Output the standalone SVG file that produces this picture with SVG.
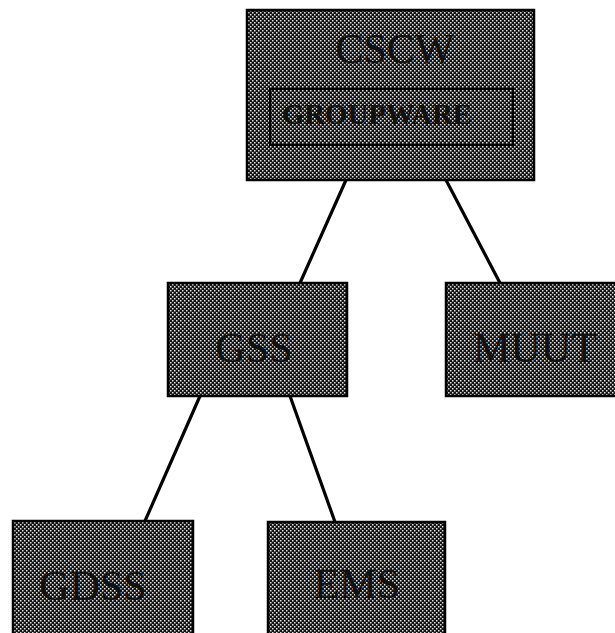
<svg xmlns="http://www.w3.org/2000/svg" width="615" height="633" viewBox="0 0 615 633">
  <defs>
    <!-- halftone screen used as the box fill -->
    <pattern id="screen" width="4" height="4" patternUnits="userSpaceOnUse">
      <rect width="4" height="4" fill="#141414"/>
      <rect x="0" y="0" width="1.5" height="1.5" fill="#e0e0e0"/>
      <rect x="2" y="2" width="1.5" height="1.5" fill="#e0e0e0"/>
    </pattern>
  </defs>
  <style>
    .box { fill: url(#screen); stroke: #000; stroke-width: 2.5; }
    .inner { fill: none; stroke: #000; stroke-width: 2; }
    .label { font-family: "Liberation Serif", "Times New Roman", serif; font-size: 42px; fill: #111; text-anchor: middle; }
    .sub { font-family: "Liberation Serif", "Times New Roman", serif; font-size: 30px; font-weight: bold; fill: #111; text-anchor: middle; }
    .link { stroke: #000; stroke-width: 3.2; fill: none; stroke-linecap: round; }
  </style>
  <rect width="615" height="633" fill="#fff"/>

  <g id="connectors">
    <line class="link" x1="346" y1="180" x2="300" y2="283"/>
    <line class="link" x1="446" y1="180" x2="500" y2="283"/>
    <line class="link" x1="200" y1="396" x2="145" y2="521"/>
    <line class="link" x1="290" y1="396" x2="335" y2="522"/>
  </g>

  <g id="cscw">
    <rect class="box" x="247" y="10" width="287" height="170"/>
    <text class="label" x="395" y="63">CSCW</text>
    <rect class="inner" x="270" y="89" width="243" height="56"/>
    <text class="sub" x="377" y="124" textLength="190" lengthAdjust="spacingAndGlyphs">GROUPWARE</text>
  </g>

  <g id="gss">
    <rect class="box" x="168" y="283" width="179" height="113"/>
    <text class="label" x="254" y="362">GSS</text>
  </g>

  <g id="muut">
    <rect class="box" x="446" y="283" width="175" height="113"/>
    <text class="label" x="535" y="362">MUUT</text>
  </g>

  <g id="gdss">
    <rect class="box" x="13" y="521" width="180" height="118"/>
    <text class="label" x="93" y="600">GDSS</text>
  </g>

  <g id="ems">
    <rect class="box" x="268" y="522" width="177" height="117"/>
    <text class="label" x="357" y="598">EMS</text>
  </g>
</svg>
